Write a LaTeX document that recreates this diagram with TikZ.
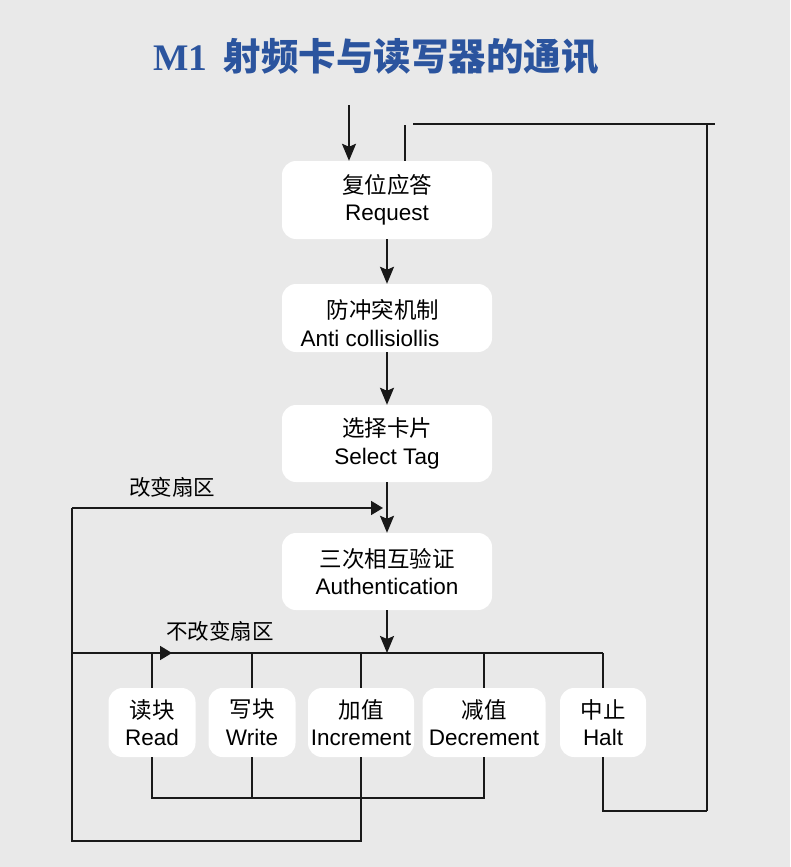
\documentclass[tikz,border=0pt]{standalone}
\usepackage{fontspec}
\setmainfont{Liberation Sans}
\newfontfamily\cjk{Noto Sans CJK SC}
\newfontfamily\titleserif{Liberation Serif}
\usetikzlibrary{arrows.meta}
\definecolor{bgcol}{RGB}{233,233,233}
\definecolor{titleblue}{RGB}{43,84,158}
\definecolor{linecol}{RGB}{25,25,25}
\begin{document}
\begin{tikzpicture}[x=1pt,y=-1pt,
  box/.style={fill=white,draw=none,rounded corners=14pt,inner sep=0pt,align=center,
    font=\fontsize{22.5}{27.5}\selectfont},
  bigbox/.style={box,minimum width=210pt,minimum height=77pt},
  smallbox/.style={box,minimum height=69pt},
  txt/.style={inner sep=0pt,align=center,font=\fontsize{22.5}{27.5}\selectfont},
  flow/.style={draw=linecol,line width=2.1pt,-{Stealth[length=17pt,width=14pt,inset=3pt]}},
  thin/.style={draw=linecol,line width=1.4pt},
  tri/.style={draw=linecol,line width=1.8pt,-{Triangle[length=12pt,width=14pt]}},
  lbl/.style={inner sep=0pt,font=\cjk\fontsize{21.5}{24}\selectfont}
]
\fill[bgcol] (0,0) rectangle (790,867);
\useasboundingbox (0,0) rectangle (790,867);

% title
\node[inner sep=0pt,text=titleblue,anchor=center] (title) at (376,57)
  {\bfseries\fontsize{37.5}{42}\selectfont\titleserif M1\hspace{16pt}\cjk 射频卡与读写器的通讯};

% main boxes
\node[bigbox,minimum height=78pt] (b1) at (387,200) {{\cjk 复位应答}\\Request};
\node[bigbox,minimum height=68pt] (b2) at (387,318) {};
\node[txt,align=right] (t2) at (370,323) {{\cjk 防冲突机制}\\Anti collisiollis};
\node[bigbox] (b3) at (387,443.5) {{\cjk 选择卡片}\\Select Tag};
\node[bigbox] (b4) at (387,571.5) {{\cjk 三次相互验证}\\Authentication};

% bottom boxes
\node[smallbox,minimum width=87pt] (rd) at (152,722.5) {{\cjk 读块}\\Read};
\node[smallbox,minimum width=87pt] (wr) at (252,722.5) {{\cjk 写块}\\Write};
\node[smallbox,minimum width=106pt] (inc) at (361,722.5) {{\cjk 加值}\\Increment};
\node[smallbox,minimum width=123pt] (dec) at (484,722.5) {{\cjk 减值}\\Decrement};
\node[smallbox,minimum width=86pt] (hlt) at (603,722.5) {{\cjk 中止}\\Halt};

% labels
\node[lbl] (l1) at (172,487) {改变扇区};
\node[lbl] (l2) at (220,631) {不改变扇区};

% coordinates
\coordinate (in) at (349,105);
\coordinate (lp) at (405,125);
\coordinate (rtL) at (413,124);
\coordinate (rtR) at (715,124);
\coordinate (rtTop) at (707,124);
\coordinate (rtBot) at (707,811);
\coordinate (busL) at (72,653);
\coordinate (busR) at (603,653);
\coordinate (busA) at (172,653);
\coordinate (chgTop) at (72,508);
\coordinate (chgTip) at (383,508);
\coordinate (loopBot) at (72,841);
\coordinate (colY) at (0,798);

% flow arrows
\draw[flow] (in) -- (in |- b1.north);
\draw[flow] (b1.south) -- (b2.north);
\draw[flow] (b2.south) -- (b3.north);
\draw[flow] (b3.south) -- (b4.north);
\draw[flow] (b4.south) -- (b4.south |- busL);

% outer right loop
\draw[thin] (lp) -- (lp |- b1.north);
\draw[thin] (rtL) -- (rtR);
\draw[thin] (rtTop) -- (rtBot);
\draw[thin] (hlt.south) -- (hlt.south |- rtBot) -- (rtBot);

% bus
\draw[thin] (busL) -- (busR);
\draw[tri] (busL) -- (busA);
\draw[thin] (busR) -- (hlt.north);
\draw[thin] (rd.north |- busL) -- (rd.north);
\draw[thin] (wr.north |- busL) -- (wr.north);
\draw[thin] (inc.north |- busL) -- (inc.north);
\draw[thin] (dec.north |- busL) -- (dec.north);

% collector
\draw[thin] (rd.south) -- (rd.south |- colY) -- (dec.south |- colY) -- (dec.south);
\draw[thin] (wr.south) -- (wr.south |- colY);

% change-sector loop
\draw[thin] (inc.south) -- (inc.south |- loopBot) -- (loopBot) -- (chgTop);
\draw[tri] (chgTop) -- (chgTip);
\end{tikzpicture}
\end{document}
